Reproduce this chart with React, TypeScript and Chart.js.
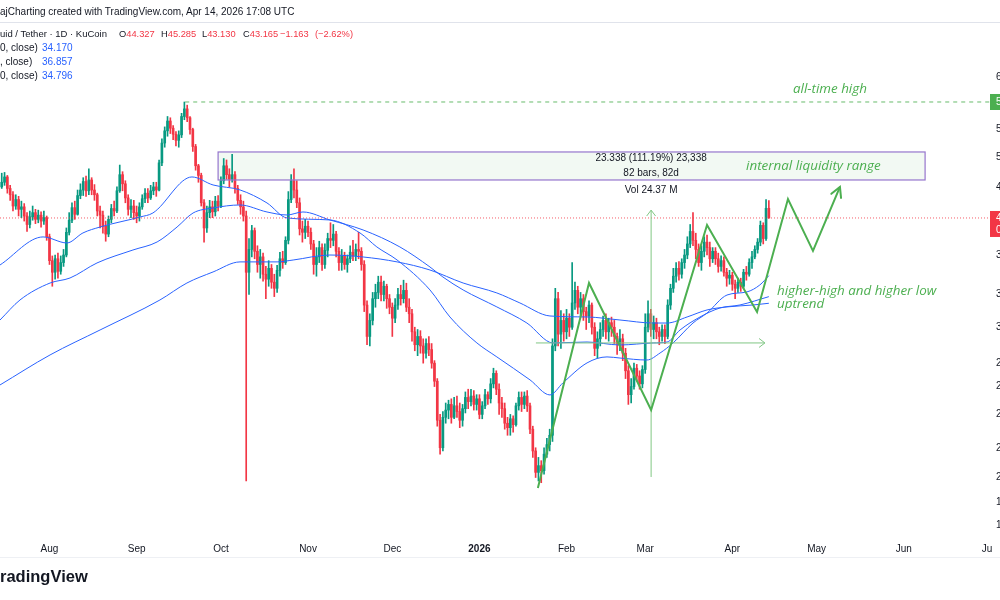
import React, { useEffect, useRef } from "react";
import { Chart, registerables } from "chart.js";
Chart.register(...registerables);

const SANS = '"Liberation Sans", Arial, sans-serif';
const ITALIC = '"Open Sans", "Liberation Sans", sans-serif';
const FS = 10;
const UP = "#089981";
const DOWN = "#f23645";
const GREEN = "#4caf50";
const TEXT = "#131722";

// day index 0 = 2025-08-01; first candle = 2025-07-15
const FIRST_DAY = -17;
const firstOpen = 47.0;
const closes = [
  47.6, 48.3, 46.8, 46.0, 44.6, 45.4, 44.2, 44.5, 43.4, 42.4,
  43.3, 43.8, 43.0, 43.5, 42.8, 43.2, 41.0, 38.4, 37.2, 38.6,
  37.3, 38.2, 39.0, 41.5, 42.9, 44.4, 43.6, 45.9, 46.6, 47.7,
  46.5, 47.9, 46.6, 46.0, 44.0, 43.5, 42.2, 41.3, 43.0, 44.3,
  44.0, 46.5, 48.6, 47.4, 45.6, 44.2, 44.6, 43.8, 43.4, 44.5,
  45.5, 46.2, 45.6, 46.5, 47.0, 46.6, 50.2, 53.0, 54.8, 56.3,
  55.2, 54.3, 53.4, 54.2, 57.0, 58.2, 56.8, 55.0, 52.5, 49.8,
  48.5, 45.0, 42.0, 43.8, 44.5, 43.9, 45.2, 44.6, 47.8, 49.8,
  48.6, 48.0, 48.6, 46.8, 45.3, 44.5, 43.4, 37.2, 39.6, 41.7,
  39.4, 38.0, 38.8, 37.0, 36.5, 37.6, 36.2, 35.6, 37.4, 38.6,
  38.2, 40.6, 45.4, 47.8, 46.6, 45.0, 41.9, 41.5, 42.2, 41.5,
  40.2, 38.0, 38.8, 39.8, 38.0, 39.5, 40.8, 40.6, 41.3, 39.4,
  38.2, 38.9, 38.0, 38.6, 39.3, 38.9, 39.6, 39.4, 38.0, 34.0,
  31.2, 32.6, 34.6, 35.2, 36.2, 35.0, 35.8, 34.6, 33.8, 32.8,
  34.0, 35.0, 34.6, 35.4, 33.8, 33.2, 31.6, 30.5, 31.2, 30.4,
  29.8, 30.6, 30.1, 29.0, 27.6, 24.8, 23.0, 25.0, 25.5, 25.9,
  25.0, 25.8, 25.4, 24.8, 25.6, 26.4, 26.1, 26.5, 25.9, 26.3,
  25.2, 25.8, 26.6, 26.3, 27.4, 28.2, 27.0, 26.0, 25.6, 24.6,
  24.3, 24.9, 24.5, 25.8, 26.4, 25.9, 26.5, 25.8, 24.2, 22.8,
  21.5, 21.9, 21.6, 22.6, 23.2, 23.8, 30.4, 34.6, 31.4, 32.6,
  31.6, 32.8, 32.0, 34.2, 35.4, 33.8, 34.6, 33.4, 33.0, 34.0,
  32.0, 30.2, 31.0, 31.8, 32.6, 31.6, 32.4, 32.0, 31.2, 30.6,
  31.0, 29.8, 28.4, 26.6, 27.2, 28.6, 28.0, 27.4, 28.5, 32.0,
  33.2, 31.8, 32.4, 31.6, 31.2, 31.8, 31.2, 34.0, 35.6, 36.8,
  37.6, 37.0, 38.2, 39.0, 40.2, 41.6, 40.6, 39.6, 38.2, 39.4,
  40.4, 39.8, 38.6, 39.4, 38.6, 37.8, 38.4, 37.2, 36.6, 36.9,
  36.0, 35.6, 36.2, 35.8, 37.2, 37.0, 38.2, 38.8, 39.6, 40.4,
  42.3, 40.8, 44.327, 43.165,
];
const highs = [
  48.8, 48.9, 48.5, 47.2, 46.4, 46.0, 45.8, 45.2, 44.9, 43.8,
  44.0, 44.6, 44.2, 44.1, 43.9, 44.0, 43.4, 41.3, 38.9, 39.0,
  39.2, 38.9, 39.6, 42.0, 43.8, 45.0, 45.2, 46.6, 47.4, 48.2,
  48.4, 49.4, 48.2, 47.3, 46.2, 44.6, 44.0, 42.8, 43.4, 44.8,
  45.2, 47.0, 49.9, 49.0, 47.8, 46.0, 45.4, 45.3, 44.6, 45.0,
  46.0, 46.8, 46.8, 47.2, 47.6, 47.6, 50.6, 53.6, 55.4, 57.0,
  56.8, 55.6, 54.7, 54.8, 57.5, 59.31, 58.8, 57.0, 55.2, 52.8,
  50.0, 48.8, 45.4, 44.6, 45.3, 45.2, 45.8, 45.9, 48.3, 50.8,
  50.6, 49.4, 51.4, 49.0, 47.2, 46.0, 45.2, 44.0, 40.8, 42.3,
  42.0, 40.0, 39.6, 39.2, 37.8, 38.4, 38.0, 37.0, 37.9, 39.3,
  39.4, 41.0, 46.4, 48.6, 49.4, 47.8, 45.6, 42.8, 43.0, 42.8,
  42.0, 40.6, 39.8, 40.5, 40.2, 40.2, 41.4, 42.6, 42.4, 41.6,
  39.8, 39.6, 39.3, 39.0, 40.0, 40.6, 40.2, 41.5, 39.8, 38.4,
  34.4, 33.2, 35.2, 36.0, 36.8, 36.8, 36.3, 36.0, 35.0, 34.2,
  34.6, 35.6, 35.9, 36.4, 36.1, 34.6, 33.6, 32.0, 31.8, 31.7,
  31.0, 31.0, 31.2, 30.6, 29.2, 27.8, 25.2, 25.4, 26.0, 26.2,
  26.3, 26.4, 26.5, 26.0, 25.9, 26.8, 27.0, 27.0, 26.9, 26.6,
  26.6, 26.1, 27.0, 26.8, 27.8, 28.6, 28.4, 27.4, 26.4, 26.0,
  25.0, 25.2, 25.1, 26.0, 26.8, 26.8, 26.8, 26.9, 26.0, 24.4,
  23.0, 22.4, 22.2, 23.0, 23.6, 24.2, 31.0, 35.6, 35.2, 33.5,
  33.2, 33.6, 33.2, 38.2, 36.2, 35.8, 35.2, 35.0, 33.8, 34.4,
  34.2, 32.4, 31.6, 32.4, 33.0, 33.2, 32.8, 32.9, 32.6, 31.5,
  31.8, 31.4, 30.2, 28.8, 27.8, 29.0, 28.9, 28.4, 28.8, 33.2,
  34.4, 33.6, 33.0, 32.8, 32.0, 32.2, 32.2, 34.5, 36.0, 37.6,
  38.2, 38.3, 38.6, 39.6, 41.0, 42.4, 43.8, 41.4, 40.2, 40.0,
  41.0, 41.2, 40.4, 39.8, 39.8, 39.2, 38.9, 38.8, 37.6, 37.4,
  37.2, 36.4, 36.6, 36.6, 37.5, 37.8, 38.6, 39.4, 40.0, 40.8,
  42.8, 42.6, 45.4, 45.285,
];
const lows = [
  46.8, 47.2, 46.2, 45.3, 44.0, 44.2, 43.4, 43.2, 42.8, 41.6,
  42.0, 42.9, 42.5, 42.6, 42.1, 42.4, 40.6, 38.0, 35.8, 36.5,
  36.6, 37.0, 37.8, 38.8, 41.2, 42.6, 43.0, 43.5, 45.5, 45.9,
  45.8, 46.0, 46.0, 45.3, 43.4, 42.0, 41.4, 40.5, 41.0, 42.6,
  43.4, 43.8, 46.3, 46.5, 45.0, 43.5, 43.2, 43.0, 42.6, 42.8,
  44.2, 45.0, 45.0, 45.4, 46.0, 45.8, 46.5, 49.8, 52.4, 54.0,
  54.4, 53.5, 52.6, 52.4, 53.8, 56.5, 56.2, 54.3, 51.8, 49.2,
  47.6, 44.6, 40.4, 41.5, 43.2, 43.2, 43.4, 44.0, 44.4, 47.4,
  48.0, 47.0, 47.6, 46.2, 44.8, 43.6, 42.8, 21.0, 35.0, 38.8,
  38.6, 37.2, 36.6, 36.3, 34.6, 35.8, 35.6, 34.8, 35.2, 36.8,
  37.6, 38.0, 40.2, 45.0, 45.6, 44.4, 41.2, 40.4, 40.8, 41.0,
  39.6, 37.0, 36.8, 38.2, 37.4, 37.6, 38.8, 39.8, 40.0, 38.8,
  37.4, 37.4, 37.5, 37.2, 38.2, 38.4, 38.4, 38.6, 37.4, 33.4,
  30.5, 30.4, 32.2, 33.8, 34.6, 34.4, 34.4, 33.7, 33.2, 31.2,
  32.4, 33.6, 34.0, 34.2, 33.4, 32.4, 30.8, 30.0, 29.6, 29.8,
  29.0, 29.4, 29.6, 28.6, 27.2, 24.4, 22.6, 22.8, 24.6, 24.9,
  24.6, 24.9, 25.0, 24.3, 24.4, 25.3, 25.6, 25.8, 25.5, 25.5,
  24.9, 24.9, 25.6, 25.9, 26.0, 27.1, 26.6, 25.2, 25.0, 24.2,
  23.8, 23.8, 24.0, 24.4, 25.5, 25.4, 25.6, 25.4, 23.9, 22.4,
  21.2, 21.0, 20.9, 21.4, 22.4, 22.8, 23.4, 30.0, 30.4, 30.2,
  30.8, 31.0, 31.2, 31.8, 33.6, 33.2, 33.0, 32.6, 31.8, 32.4,
  31.4, 29.6, 29.4, 30.4, 31.2, 31.0, 30.8, 31.2, 30.6, 29.7,
  30.0, 29.2, 27.8, 25.9, 26.0, 27.0, 27.6, 27.0, 27.1, 28.2,
  31.6, 31.2, 31.0, 31.0, 30.5, 30.8, 30.6, 31.0, 33.6, 35.2,
  36.2, 36.4, 36.6, 37.6, 38.6, 39.8, 40.0, 38.6, 37.8, 37.4,
  38.8, 39.0, 37.8, 38.2, 38.0, 37.2, 37.3, 36.8, 35.8, 36.0,
  35.4, 34.6, 35.2, 35.3, 35.6, 36.4, 36.8, 37.6, 38.6, 39.2,
  40.0, 40.2, 40.6, 43.13,
];

// moving averages (day, value)
const maFastDays = [-17.6, -2.3, 6.2, 11.9, 18.0, 32.2, 36.8, 50.7, 58.2, 67.8, 77.4, 84.5, 99.8, 110.5, 116.5, 123.7, 135.4, 142.5, 152.1, 159.2, 171.0, 178.1, 182.7, 191.3, 198.4, 203.0, 212.6, 217.3, 221.9, 229.0, 234.0, 241.1, 248.2, 252.8, 256];
const maFastVals = [37.95, 40.98, 40.31, 41.43, 42.11, 43.28, 43.76, 48.3, 47.25, 46.61, 44.98, 43.17, 42.93, 41.43, 39.87, 38.47, 35.44, 32.91, 30.65, 29.5, 27.7, 26.58, 27.47, 29.02, 29.5, 29.41, 29.25, 29.82, 30.65, 32.37, 33.27, 34.95, 35.25, 35.93, 36.857];
const maMidDays = [-17.6, -10.5, 0.2, 7.3, 16.9, 29.7, 38.3, 45.4, 51.1, 58.2, 67.8, 77.4, 84.5, 90.2, 99.8, 111.6, 124.7, 135.4, 140.0, 147.2, 159.2, 169.9, 179.2, 191.3, 203.0, 214.8, 219.8, 224.4, 231.5, 238.6, 245.7, 256];
const maMidVals = [32.64, 34.48, 36.12, 36.62, 38.16, 39.54, 40.42, 42.11, 43.76, 44.36, 44.73, 43.88, 43.52, 43.88, 42.93, 41.77, 39.87, 37.74, 36.72, 35.44, 33.83, 32.37, 30.65, 30.73, 30.48, 30.65, 30.73, 31.76, 32.91, 33.73, 34.01, 34.796];
const maSlowDays = [-17.6, 0.2, 18.0, 39.3, 48.9, 58.2, 67.8, 81.0, 86.7, 99.8, 111.6, 123.7, 135.4, 147.2, 159.2, 167.4, 178.1, 191.3, 203.0, 214.8, 219.8, 226.9, 234.0, 241.1, 250.4, 256];
const maSlowVals = [27.32, 29.66, 31.76, 34.48, 36.12, 37.23, 38.27, 38.27, 38.47, 39.0, 38.79, 38.27, 37.43, 36.12, 35.15, 34.2, 33.0, 32.91, 32.64, 32.37, 32.37, 32.91, 33.55, 33.83, 34.01, 34.17];

// drawings
const zigDays = [173.8, 192.0, 214.1, 234.0, 251.8, 262.8, 271.7, 281.3];
const zigVals = [20.6, 36.12, 25.51, 42.35, 33.37, 45.47, 39.44, 46.99];
const rangeBoxDays = [60.0, 311.6];
const rangeBoxPrices = [47.9, 51.72];
const vRangeDay = 214.1;
const vRangePrices = [21.23, 44.1];
const hRangeDays = [173.1, 254.6];
const hRangePrice = 30.65;
const athDay = 48.3;
const athPrice = 59.31;
const lastPrice = 43.165;

const monthDays = [0, 31, 61, 92, 122, 153, 184, 212, 243, 273, 304, 334];
const monthLabels = ["Aug", "Sep", "Oct", "Nov", "Dec", "2026", "Feb", "Mar", "Apr", "May", "Jun", "Jul"];
const priceTicks = [63.5, 55, 51, 47, 39, 35, 32, 29, 27.2, 25.2, 23, 21.2, 19.8, 18.6];

const X_MIN = -17.616;
const X_MAX = 334.7;
const Y_MIN = 18.36;
const Y_MAX = 73.64;

const rangeText = ["23.338 (111.19%) 23,338", "82 bars, 82d", "Vol 24.37 M"];
const rangeTextPrices = [50.88, 48.83, 46.61];
const notes = [
  { text: "all-time high", day: 264.6, price: 61.46 },
  { text: "internal liquidity range", day: 247.9, price: 49.77 },
  { text: "higher-high and higher low", day: 258.9, price: 35.34 },
  { text: "uptrend", day: 258.9, price: 34.1 },
];

function arrowHead(ctx: CanvasRenderingContext2D, fx: number, fy: number, tx: number, ty: number, len: number, ang: number) {
  const a = Math.atan2(ty - fy, tx - fx);
  ctx.beginPath();
  ctx.moveTo(tx - len * Math.cos(a - ang), ty - len * Math.sin(a - ang));
  ctx.lineTo(tx, ty);
  ctx.lineTo(tx - len * Math.cos(a + ang), ty - len * Math.sin(a + ang));
  ctx.stroke();
}

const drawPlugin = {
  id: "tvDrawings",
  beforeDatasetsDraw(chart: any) {
    const { ctx, scales, chartArea } = chart;
    const x = scales.x, y = scales.y;
    ctx.save();
    ctx.beginPath();
    ctx.rect(chartArea.left, chartArea.top, chartArea.right - chartArea.left, chartArea.bottom - chartArea.top);
    ctx.clip();
    const x0 = x.getPixelForValue(rangeBoxDays[0]);
    const x1 = x.getPixelForValue(rangeBoxDays[1]);
    const yT = y.getPixelForValue(rangeBoxPrices[1]);
    const yB = y.getPixelForValue(rangeBoxPrices[0]);
    ctx.fillStyle = "rgba(76,175,80,0.07)";
    ctx.fillRect(x0, yT, x1 - x0, yB - yT);
    ctx.restore();
  },
  afterDatasetsDraw(chart: any) {
    const { ctx, scales } = chart;
    const x = scales.x, y = scales.y;
    ctx.save();
    const x0 = x.getPixelForValue(rangeBoxDays[0]);
    const x1 = x.getPixelForValue(rangeBoxDays[1]);
    const yT = y.getPixelForValue(rangeBoxPrices[1]);
    const yB = y.getPixelForValue(rangeBoxPrices[0]);
    ctx.strokeStyle = "#9575cd";
    ctx.lineWidth = 1.2;
    ctx.strokeRect(x0, yT, x1 - x0, yB - yT);

    const n = zigDays.length;
    ctx.strokeStyle = GREEN;
    ctx.lineWidth = 2;
    ctx.lineCap = "round";
    arrowHead(ctx, x.getPixelForValue(zigDays[n - 2]), y.getPixelForValue(zigVals[n - 2]), x.getPixelForValue(zigDays[n - 1]), y.getPixelForValue(zigVals[n - 1]), 11, 0.5);
    ctx.strokeStyle = "#81c784";
    ctx.lineWidth = 1;
    const vx = x.getPixelForValue(vRangeDay);
    arrowHead(ctx, vx, y.getPixelForValue(vRangePrices[0]), vx, y.getPixelForValue(vRangePrices[1]), 7, 0.65);
    const hy = y.getPixelForValue(hRangePrice);
    arrowHead(ctx, x.getPixelForValue(hRangeDays[0]), hy, x.getPixelForValue(hRangeDays[1]), hy, 7, 0.65);

    ctx.fillStyle = TEXT;
    ctx.font = `${FS}px ${SANS}`;
    ctx.textAlign = "center";
    ctx.textBaseline = "middle";
    rangeText.forEach((t, i) => ctx.fillText(t, vx, y.getPixelForValue(rangeTextPrices[i])));

    ctx.fillStyle = GREEN;
    ctx.font = `italic 13.4px ${ITALIC}`;
    ctx.textAlign = "left";
    notes.forEach((nt) => ctx.fillText(nt.text, x.getPixelForValue(nt.day), y.getPixelForValue(nt.price)));
    ctx.restore();
  },
  afterDraw(chart: any) {
    const { ctx, scales, chartArea } = chart;
    const y = scales.y;
    const left = chartArea.right;
    ctx.save();
    // the time scale is cut at the price-scale edge, as in the source
    ctx.fillStyle = "#ffffff";
    ctx.fillRect(left + 2, chartArea.bottom + 1, 80, 24);
    ctx.font = `${FS}px ${SANS}`;
    ctx.textAlign = "left";
    ctx.textBaseline = "middle";
    const ya = y.getPixelForValue(athPrice);
    ctx.fillStyle = GREEN;
    ctx.fillRect(left, ya - 8, 80, 16);
    ctx.fillStyle = "#ffffff";
    ctx.fillText(athPrice.toFixed(3), left + 6, ya);
    const yl = y.getPixelForValue(lastPrice);
    ctx.fillStyle = DOWN;
    ctx.fillRect(left, yl - 7, 80, 26);
    ctx.fillStyle = "#ffffff";
    ctx.fillText(lastPrice.toFixed(3), left + 6, yl);
    ctx.fillText("06:51:23", left + 6, yl + 12);
    ctx.restore();
  },
};

function Txt(props: { x: number; y: number; children: any; size?: number; color?: string; weight?: any; family?: string }) {
  return (
    <div
      style={{
        position: "absolute",
        left: props.x,
        top: props.y - 8,
        height: 16,
        lineHeight: "16px",
        whiteSpace: "nowrap",
        fontFamily: props.family || SANS,
        fontSize: props.size || FS,
        color: props.color || TEXT,
        fontWeight: props.weight || "normal",
      }}
    >
      {props.children}
    </div>
  );
}

export default function App() {
  const ref = useRef<HTMLCanvasElement>(null);
  useEffect(() => {
    const days = closes.map((_, i) => FIRST_DAY + i);
    const opens = closes.map((_, i) => (i === 0 ? firstOpen : closes[i - 1]));
    const colors = closes.map((c, i) => (c >= opens[i] ? UP : DOWN));
    const wicks = days.map((d, i) => ({ x: d, y: [Math.min(lows[i], opens[i], closes[i]), Math.max(highs[i], opens[i], closes[i])] }));
    const bodies = days.map((d, i) => ({ x: d, y: [opens[i], closes[i]] }));
    const pts = (ds: number[], vs: number[]) => ds.map((d, i) => ({ x: d, y: vs[i] }));
    const maLine = (ds: number[], vs: number[]) => ({
      type: "line",
      data: pts(ds, vs),
      borderColor: "#2962ff",
      borderWidth: 1,
      pointRadius: 0,
      cubicInterpolationMode: "monotone",
      order: 5,
    });
    const chart = new Chart(ref.current as HTMLCanvasElement, {
      type: "bar",
      data: {
        datasets: [
          { type: "bar", data: wicks, backgroundColor: colors, barThickness: 1, grouped: false, order: 10 } as any,
          { type: "bar", data: bodies, backgroundColor: colors, barThickness: 2, minBarLength: 1, grouped: false, order: 9 } as any,
          maLine(maSlowDays, maSlowVals),
          maLine(maFastDays, maFastVals),
          maLine(maMidDays, maMidVals),
          { type: "line", data: [{ x: athDay, y: athPrice }, { x: X_MAX, y: athPrice }], borderColor: "rgba(76,175,80,0.85)", borderWidth: 1, borderDash: [4, 4], pointRadius: 0, order: 2 },
          { type: "line", data: [{ x: X_MIN, y: lastPrice }, { x: X_MAX, y: lastPrice }], borderColor: "rgba(242,54,69,0.8)", borderWidth: 1, borderDash: [1, 2], pointRadius: 0, order: 2 },
          { type: "line", data: [{ x: vRangeDay, y: vRangePrices[0] }, { x: vRangeDay, y: vRangePrices[1] }], borderColor: "#81c784", borderWidth: 1, pointRadius: 0, order: 1 },
          { type: "line", data: [{ x: hRangeDays[0], y: hRangePrice }, { x: hRangeDays[1], y: hRangePrice }], borderColor: "#81c784", borderWidth: 1, pointRadius: 0, order: 1 },
          { type: "line", data: pts(zigDays, zigVals), borderColor: GREEN, borderWidth: 2, pointRadius: 0, tension: 0, order: 0 },
        ] as any,
      },
      options: {
        animation: false,
        responsive: false,
        devicePixelRatio: 1,
        events: [],
        layout: { padding: { top: 23, left: 0, right: 0, bottom: 0 } },
        plugins: { legend: { display: false }, tooltip: { enabled: false } },
        scales: {
          x: {
            type: "linear",
            min: X_MIN,
            max: X_MAX,
            bounds: "data",
            offset: false,
            grid: { display: false },
            border: { display: false },
            afterBuildTicks: (s: any) => {
              s.ticks = monthDays.map((v) => ({ value: v }));
            },
            afterFit: (s: any) => {
              s.height = 70;
            },
            ticks: {
              autoSkip: false,
              maxRotation: 0,
              padding: 5,
              color: TEXT,
              font: (c: any) => ({ family: SANS, size: FS, weight: c.index === 5 ? "bold" : "normal" }),
              callback: (_v: any, i: number) => monthLabels[i],
            },
          },
          y: {
            type: "logarithmic",
            position: "right",
            min: Y_MIN,
            max: Y_MAX,
            bounds: "data",
            grid: { display: false, drawTicks: false },
            border: { display: false },
            afterBuildTicks: (s: any) => {
              s.ticks = priceTicks.map((v) => ({ value: v }));
            },
            afterFit: (s: any) => {
              s.width = 70;
            },
            ticks: {
              autoSkip: false,
              padding: 6,
              color: TEXT,
              font: { family: SANS, size: FS },
              callback: (v: any) => Number(v).toFixed(3),
            },
          },
        },
      } as any,
      plugins: [drawPlugin],
    });
    return () => chart.destroy();
  }, []);

  return (
    <div style={{ position: "fixed", left: 0, top: 0, width: 1000, height: 600, overflow: "hidden", background: "#ffffff" }}>
      <canvas ref={ref} width={1060} height={600} style={{ position: "absolute", left: 0, top: 0, width: 1060, height: 600, display: "block" }} />
      <Txt x={0} y={12}>ajCharting created with TradingView.com, Apr 14, 2026 17:08 UTC</Txt>
      <div style={{ position: "absolute", left: 0, top: 22, width: 1000, height: 1, background: "#e0e3eb" }} />
      <Txt x={0} y={34} size={9.5}>uid / Tether · 1D · KuCoin</Txt>
      <Txt x={119} y={34} size={9.3}>O<span style={{ color: DOWN }}>44.327</span></Txt>
      <Txt x={161} y={34} size={9.3}>H<span style={{ color: DOWN }}>45.285</span></Txt>
      <Txt x={202} y={34} size={9.3}>L<span style={{ color: DOWN }}>43.130</span></Txt>
      <Txt x={243} y={34} size={9.3}>C<span style={{ color: DOWN }}>43.165</span></Txt>
      <Txt x={280} y={34} size={9.3} color={DOWN}>−1.163</Txt>
      <Txt x={315} y={34} size={9.3} color={DOWN}>(−2.62%)</Txt>
      <Txt x={0} y={48}>0, close)</Txt>
      <Txt x={42} y={48} color="#2962ff">34.170</Txt>
      <Txt x={0} y={62}>, close)</Txt>
      <Txt x={42} y={62} color="#2962ff">36.857</Txt>
      <Txt x={0} y={76}>0, close)</Txt>
      <Txt x={42} y={76} color="#2962ff">34.796</Txt>
      <div style={{ position: "absolute", left: 0, top: 557, width: 1000, height: 1, background: "#eef0f4" }} />
      <Txt x={0} y={576} size={16.5} weight="bold">radingView</Txt>
    </div>
  );
}
